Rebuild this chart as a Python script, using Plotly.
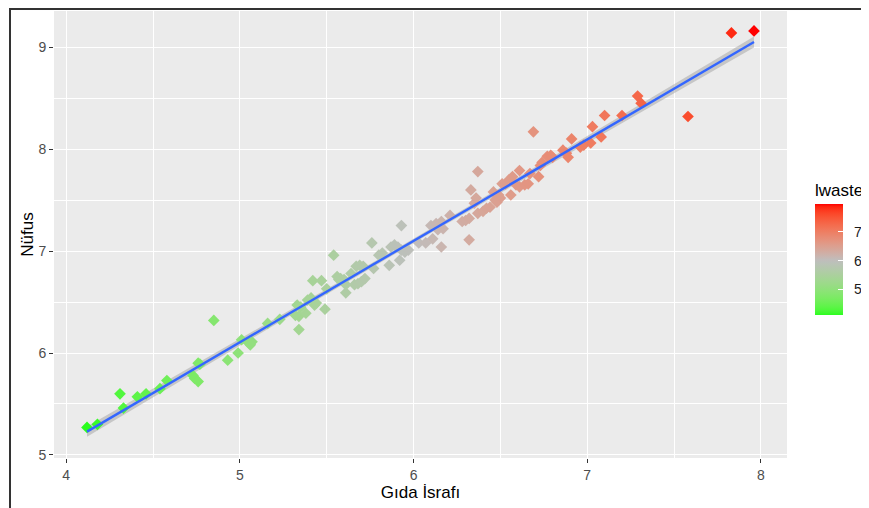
import numpy as np
import plotly.graph_objects as go

# Food waste (log) and population (log)
gida_israfi = [4.12, 4.18, 4.31, 4.33, 4.41, 4.46, 4.54, 4.58, 4.73, 4.74,
               4.76, 4.76, 4.77, 4.85, 4.93, 4.99, 5.01, 5.05, 5.07, 5.06,
               5.16, 5.23, 5.33, 5.34, 5.34, 5.35, 5.32, 5.38, 5.39, 5.41,
               5.43, 5.44, 5.49, 5.42, 5.47, 5.50, 5.54, 5.56, 5.58, 5.60,
               5.57, 5.61, 5.61, 5.64, 5.67, 5.69, 5.71, 5.66, 5.68, 5.70,
               5.72, 5.76, 5.77, 5.80, 5.82, 5.86, 5.87, 5.89, 5.91, 5.93,
               5.95, 5.97, 5.92, 5.93, 6.03, 6.07, 6.10, 6.13, 6.16, 6.11,
               6.14, 6.16, 6.17, 6.21, 6.28, 6.30, 6.32, 6.32, 6.33, 6.37,
               6.35, 6.37, 6.36, 6.40, 6.42, 6.44, 6.46, 6.47, 6.48, 6.50,
               6.49, 6.51, 6.53, 6.55, 6.57, 6.56, 6.59, 6.61, 6.64, 6.66,
               6.61, 6.67, 6.69, 6.72, 6.73, 6.74, 6.77, 6.79, 6.80, 6.86,
               6.88, 6.89, 6.91, 6.96, 6.98, 7.02, 7.03, 7.08, 7.10, 7.20,
               7.29, 7.31, 7.58, 7.83, 7.96]
nufus = [5.27, 5.30, 5.60, 5.46, 5.57, 5.60, 5.65, 5.73, 5.78, 5.75,
         5.72, 5.90, 5.89, 6.32, 5.93, 6.00, 6.13, 6.10, 6.11, 6.08,
         6.29, 6.33, 6.47, 6.36, 6.23, 6.45, 6.37, 6.39, 6.52, 6.54,
         6.47, 6.49, 6.43, 6.71, 6.71, 6.63, 6.96, 6.75, 6.73, 6.72,
         6.72, 6.67, 6.59, 6.78, 6.85, 6.86, 6.85, 6.67, 6.68, 6.70,
         6.73, 7.08, 6.83, 6.96, 6.98, 6.86, 7.04, 7.06, 7.04, 7.01,
         6.99, 7.01, 6.91, 7.25, 7.08, 7.08, 7.25, 7.27, 7.04, 7.12,
         7.21, 7.29, 7.22, 7.35, 7.29, 7.30, 7.32, 7.11, 7.60, 7.78,
         7.47, 7.37, 7.52, 7.39, 7.42, 7.43, 7.58, 7.50, 7.48, 7.52,
         7.55, 7.66, 7.66, 7.70, 7.73, 7.55, 7.65, 7.63, 7.65, 7.66,
         7.79, 7.76, 8.17, 7.73, 7.84, 7.87, 7.93, 7.94, 7.92, 7.99,
         7.96, 7.92, 8.10, 8.02, 8.04, 8.06, 8.22, 8.12, 8.33, 8.33,
         8.52, 8.45, 8.32, 9.14, 9.16]
lwaste = gida_israfi  # colour variable
x_ticks = [4, 5, 6, 7, 8]
y_ticks = [5, 6, 7, 8, 9]
legend_ticks = [5, 6, 7]

x = np.array(gida_israfi)
y = np.array(nufus)
c = np.array(lwaste)

# ---- linear fit with 95% confidence band (geom_smooth look) ----
b1, b0 = np.polyfit(x, y, 1)
xs = np.linspace(x.min(), x.max(), 80)
ys = b0 + b1 * xs
n = len(x)
resid = y - (b0 + b1 * x)
s = np.sqrt(np.sum(resid ** 2) / (n - 2))
sxx = np.sum((x - x.mean()) ** 2)
se = s * np.sqrt(1 / n + (xs - x.mean()) ** 2 / sxx)
tval = 1.98
lo, hi = ys - tval * se, ys + tval * se


# ---- ggplot scale_color_gradient2 (green - grey - red, midpoint 6) in Lab ----
def srgb_to_lab(rgb):
    rgb = np.array(rgb, float) / 255
    lin = np.where(rgb <= 0.04045, rgb / 12.92, ((rgb + 0.055) / 1.055) ** 2.4)
    M = np.array([[0.4124, 0.3576, 0.1805], [0.2126, 0.7152, 0.0722], [0.0193, 0.1192, 0.9505]])
    xyz = M @ lin / np.array([0.95047, 1.0, 1.08883])
    f = np.where(xyz > 0.008856, np.cbrt(xyz), 7.787 * xyz + 16 / 116)
    return np.array([116 * f[1] - 16, 500 * (f[0] - f[1]), 200 * (f[1] - f[2])])


def lab_to_srgb(lab):
    L, a, b = lab
    fy = (L + 16) / 116
    fx = fy + a / 500
    fz = fy - b / 200
    f = np.array([fx, fy, fz])
    xyz = np.where(f ** 3 > 0.008856, f ** 3, (f - 16 / 116) / 7.787) * np.array([0.95047, 1.0, 1.08883])
    Minv = np.array([[3.2406, -1.5372, -0.4986], [-0.9689, 1.8758, 0.0415], [0.0557, -0.2040, 1.0570]])
    lin = Minv @ xyz
    rgb = np.where(lin <= 0.0031308, 12.92 * lin, 1.055 * np.clip(lin, 0, None) ** (1 / 2.4) - 0.055)
    rgb = np.clip(rgb, 0, 1) * 255
    return "rgb(%d,%d,%d)" % tuple(np.round(rgb))


low, mid, high = srgb_to_lab([0, 255, 0]), srgb_to_lab([190, 190, 190]), srgb_to_lab([255, 0, 0])
cmin, cmax, midpoint = c.min(), c.max(), 6.0
half = max(midpoint - cmin, cmax - midpoint)
colorscale = []
for p in np.linspace(0, 1, 41):
    v = cmin + p * (cmax - cmin)
    r = 0.5 + (v - midpoint) / (2 * half)
    if r < 0.5:
        lab = low + (mid - low) * (r / 0.5)
    else:
        lab = mid + (high - mid) * ((r - 0.5) / 0.5)
    colorscale.append([float(p), lab_to_srgb(lab)])

# page body has an 8px margin: figure spans screen px 8..869 x 8..508
W, H = 861, 500
ML, MR, MT, MB = 46, 82, 3, 50
PW, PH = W - ML - MR, H - MT - MB


def px_x(sx):  # screen x -> paper x
    return (sx - 8 - ML) / PW


def px_y(sy):  # screen y -> paper y
    return (H - MB - (sy - 8)) / PH


fig = go.Figure()
fig.add_trace(go.Scatter(
    x=np.concatenate([xs, xs[::-1]]), y=np.concatenate([hi, lo[::-1]]),
    fill="toself", fillcolor="rgba(153,153,153,0.45)", line=dict(width=0),
    hoverinfo="skip", showlegend=False))
fig.add_trace(go.Scatter(
    x=x, y=y, mode="markers", showlegend=False,
    marker=dict(symbol="diamond", size=9, color=c, colorscale=colorscale,
                cmin=cmin, cmax=cmax, line=dict(width=0),
                colorbar=dict(
                    title=dict(text="lwaste", side="top",
                               font=dict(size=17, color="#000000")),
                    tickvals=legend_ticks,
                    ticktext=["  " + str(t) for t in legend_ticks],
                    ticks="inside", ticklen=5,
                    tickcolor="white", tickwidth=1,
                    tickfont=dict(size=14, color="#1A1A1A"),
                    thickness=28, thicknessmode="pixels",
                    len=135, lenmode="pixels",
                    x=px_x(815), xanchor="left", xpad=0,
                    y=px_y(247.5), yanchor="middle", ypad=0,
                    outlinewidth=0))))
fig.add_trace(go.Scatter(x=xs, y=ys, mode="lines", line=dict(color="#3366FF", width=2.4),
                         hoverinfo="skip", showlegend=False))

axis_common = dict(showgrid=True, gridcolor="white", gridwidth=1.2, zeroline=False,
                   ticks="outside", ticklen=4, tickcolor="#333333", tickwidth=1,
                   tickfont=dict(size=14, color="#4D4D4D"), showline=False)
fig.update_xaxes(range=[3.93, 8.15], tickvals=x_ticks,
                 minor=dict(dtick=0.5, tick0=3.5, showgrid=True, gridcolor="white", gridwidth=0.5, ticks=""),
                 title=dict(text="Gıda İsrafı", font=dict(size=17, color="#000000"), standoff=4),
                 **axis_common)
fig.update_yaxes(range=[4.97, 9.355], tickvals=y_ticks,
                 minor=dict(dtick=0.5, tick0=4.5, showgrid=True, gridcolor="white", gridwidth=0.5, ticks=""),
                 title=dict(text="Nüfus", font=dict(size=17, color="#000000"), standoff=0),
                 **axis_common)

fig.update_layout(
    width=W, height=H,
    margin=dict(l=ML, r=MR, t=MT, b=MB, autoexpand=False),
    paper_bgcolor="white", plot_bgcolor="#EBEBEB",
    font=dict(family="Liberation Sans, Arial, sans-serif"),
    shapes=[
        dict(type="line", xref="paper", yref="paper", x0=px_x(9), x1=px_x(875),
             y0=px_y(9), y1=px_y(9), line=dict(color="#333333", width=2)),
        dict(type="line", xref="paper", yref="paper", x0=px_x(10), x1=px_x(10),
             y0=px_y(8), y1=px_y(515), line=dict(color="#333333", width=2)),
    ],
)

fig.write_html("out.html")
